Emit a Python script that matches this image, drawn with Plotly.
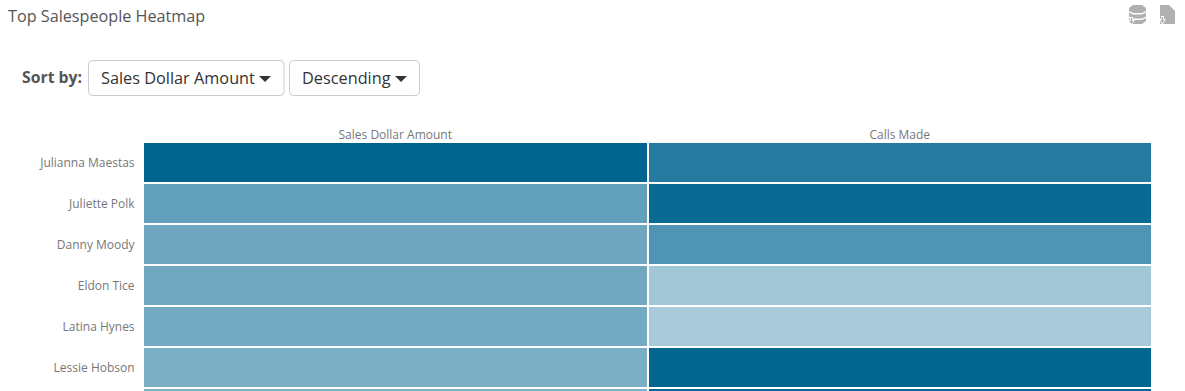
import plotly.graph_objects as go

W, H = 1185, 391
FONT = "Open Sans"
names = ["Julianna Maestas", "Juliette Polk", "Danny Moody", "Eldon Tice", "Latina Hynes", "Lessie Hobson", "Next row"]
metrics = ["Sales Dollar Amount", "Calls Made"]
sales = [1.00, 0.61, 0.57, 0.56, 0.545, 0.52, 0.50]
calls = [0.86, 0.97, 0.69, 0.37, 0.34, 0.99, 0.96]
colors = [[0, "#ffffff"], [1, "#00648f"]]

def px(x): return x / W
def py(y): return 1 - y / H

def rrect(x0, y0, x1, y1, r=4):
    a, b, c, d = px(x0), py(y0), px(x1), py(y1)
    rx, ry = r / W, r / H
    return (f"M{a+rx},{b} L{c-rx},{b} Q{c},{b} {c},{b-ry} L{c},{d+ry} Q{c},{d} {c-rx},{d} "
            f"L{a+rx},{d} Q{a},{d} {a},{d+ry} L{a},{b-ry} Q{a},{b} {a+rx},{b} Z")

def poly(pts):
    return "M" + " L".join(f"{px(x)},{py(y)}" for x, y in pts) + " Z"

fig = go.Figure(go.Heatmap(
    z=[[s, c] for s, c in zip(sales, calls)], x=metrics, y=names,
    zmin=0, zmax=1, colorscale=colors, showscale=False, xgap=2, ygap=2, hoverinfo="x+y+z"))

GREY = "#b0b0b0"
def fill(pts, color=GREY):
    return dict(type="path", xref="paper", yref="paper", path=poly(pts), line=dict(width=0), fillcolor=color)

shapes = [
    dict(type="path", xref="paper", yref="paper", path=rrect(88.5, 60.5, 284, 95.5), line=dict(color="#cccccc", width=1), fillcolor="white"),
    dict(type="path", xref="paper", yref="paper", path=rrect(289.5, 60.5, 419.5, 95.5), line=dict(color="#cccccc", width=1), fillcolor="white"),
    fill([(259, 76), (271, 76), (265, 82)], "#333333"),
    fill([(395, 76), (407, 76), (401, 82)], "#333333"),
    # database icon
    fill([(1129, 8), (1133, 5), (1142, 5), (1146, 8), (1146, 11), (1142, 13), (1133, 13), (1129, 11)]),
    fill([(1129, 12.5), (1133, 14.5), (1142, 14.5), (1146, 12.5), (1146, 16.5), (1142, 18.5), (1133, 18.5), (1129, 16.5)]),
    fill([(1129, 18), (1133, 20), (1142, 20), (1146, 18), (1146, 21), (1142, 24), (1133, 24), (1129, 22)]),
    fill([(1130, 17), (1133, 17), (1133, 20), (1135, 20), (1131.5, 25), (1128, 20), (1130, 20)], "white"),
    fill([(1130.8, 18), (1132.2, 18), (1132.2, 21), (1133.5, 21), (1131.5, 24), (1129.5, 21), (1130.8, 21)], GREY),
    # file icon
    fill([(1160, 5), (1169, 5), (1175, 11), (1175, 24), (1160, 24)]),
    fill([(1170, 5), (1175, 5), (1175, 10)], "white"),
    fill([(1161, 16), (1164, 16), (1164, 19), (1166, 19), (1162.5, 25), (1159, 19), (1161, 19)], "white"),
    fill([(1161.8, 17), (1163.2, 17), (1163.2, 20), (1164.5, 20), (1162.5, 23.5), (1160.5, 20), (1161.8, 20)], GREY),
]
ann = [
    dict(text="Top Salespeople Heatmap", x=px(6), y=py(16), xanchor="left", font=dict(size=16.2, color="#555555")),
    dict(text="<b>Sort by:</b>", x=px(20), y=py(77), xanchor="left", font=dict(size=15.8, color="#555555")),
    dict(text="Sales Dollar Amount", x=px(99), y=py(78), xanchor="left", font=dict(size=16.3, color="#333333")),
    dict(text="Descending", x=px(300), y=py(78), xanchor="left", font=dict(size=16.3, color="#333333")),
]
for a in ann:
    a.update(xref="paper", yref="paper", yanchor="middle", showarrow=False)

fig.update_layout(
    width=W, height=H, margin=dict(l=0, r=0, t=0, b=0), paper_bgcolor="white", plot_bgcolor="white",
    font=dict(family=FONT, size=12, color="#777777"), shapes=shapes, annotations=ann,
    xaxis=dict(domain=[px(143), px(1152)], side="top", ticks="", showgrid=False, zeroline=False, showline=False, fixedrange=True),
    yaxis=dict(domain=[0, py(142)], range=[5.5 + 249 / 41 - 6, -0.5], ticks="outside", ticklen=5, tickcolor="white", showgrid=False, zeroline=False, showline=False, fixedrange=True),
)
fig.write_html("out.html", config=dict(displayModeBar=False),
               post_script="document.body.style.margin='0';document.body.style.overflow='hidden';")
